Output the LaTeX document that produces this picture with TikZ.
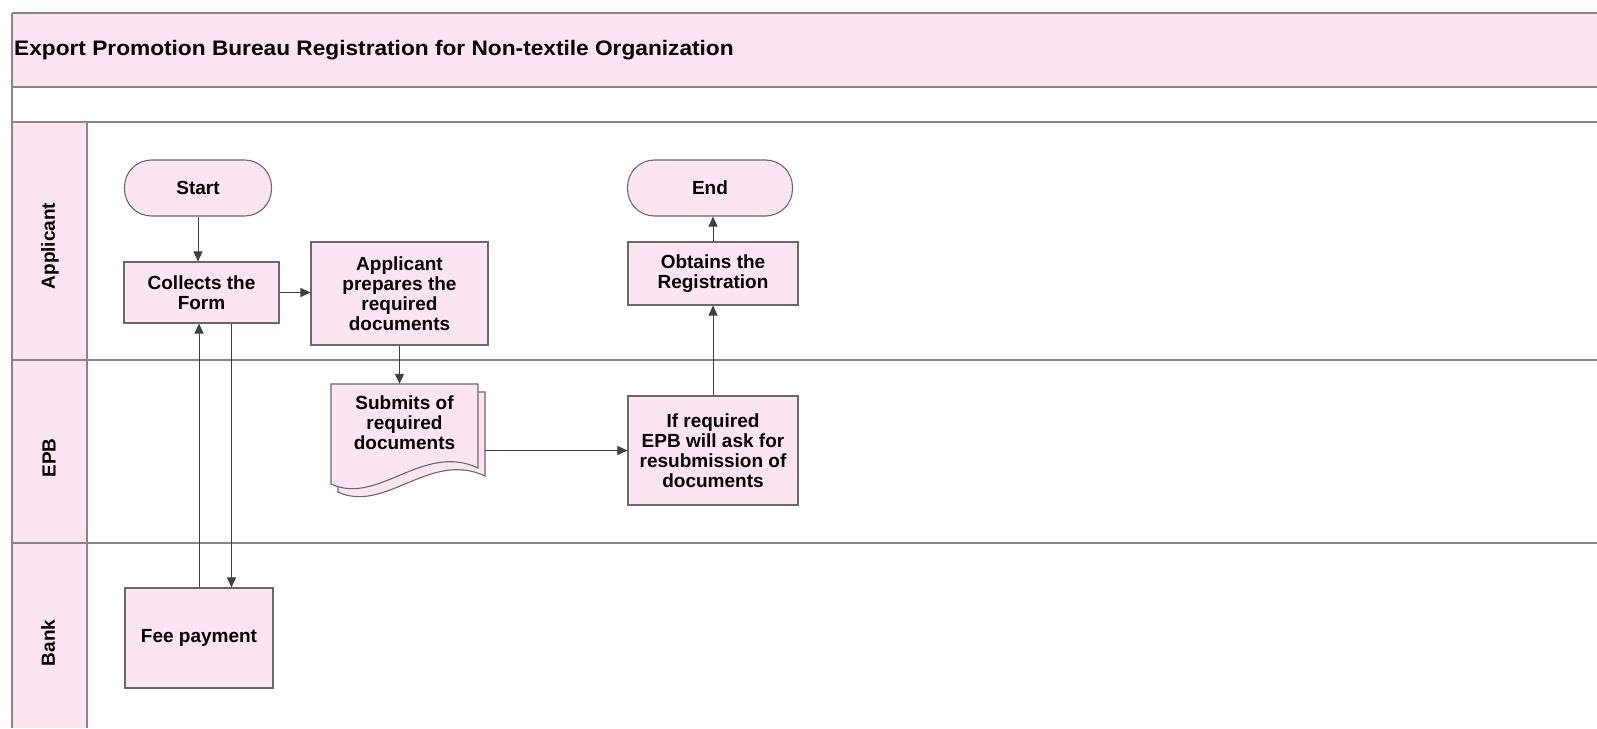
\documentclass[tikz,border=0pt]{standalone}
\usepackage{fontspec}
\setmainfont{Liberation Sans}
\newfontfamily\titlefont[FakeStretch=1.08]{Liberation Sans}
\usetikzlibrary{arrows.meta}
\definecolor{pinkfill}{RGB}{252,228,242}
\definecolor{edgegray}{RGB}{105,105,105}
\definecolor{lanegray}{RGB}{135,135,135}
\begin{document}
\begin{tikzpicture}[x=1pt,y=-1pt,
  box/.style={draw=edgegray, fill=pinkfill, line width=1.1pt, inner sep=0pt, align=center,
    font=\bfseries\fontsize{19}{20}\selectfont, text=black},
  term/.style={box, rounded corners=27pt},
  arr/.style={draw=black!75, line width=1pt, -{Triangle[length=10pt,width=9pt]}},
  lanetext/.style={rotate=90, font=\bfseries\fontsize{19}{20}\selectfont, inner sep=0pt},
  laneline/.style={draw=lanegray, line width=1.3pt}]
\useasboundingbox (0,0) rectangle (1597,728);
\fill[white] (0,0) rectangle (1597,728);
% backgrounds
\fill[pinkfill] (12,13) rectangle (1597,87);
\fill[pinkfill] (12,122) rectangle (87,728);
% frame lines
\draw[laneline] (12,13) -- (1597,13);
\draw[laneline] (12,87) -- (1597,87);
\draw[laneline] (12,122) -- (1597,122);
\draw[laneline] (12,360) -- (1597,360);
\draw[laneline] (12,543) -- (1597,543);
\draw[laneline] (12,13) -- (12,728);
\draw[laneline] (87,122) -- (87,728);
% title
\node[anchor=west, inner sep=0pt, font=\titlefont\bfseries\fontsize{21}{24}\selectfont] (title) at (14,50)
  {Export Promotion Bureau Registration for Non-textile Organization};
% lane labels
\node[lanetext] (lA) at (50,246) {Applicant};
\node[lanetext] (lE) at (49,458) {EPB};
\node[lanetext] (lB) at (48,643) {Bank};
% nodes
\node[term, minimum width=147pt, minimum height=56pt] (start) at (198,188) {Start};
\node[term, minimum width=165pt, minimum height=56pt] (end) at (710,188) {End};
\node[box, minimum width=155pt, minimum height=61pt] (collect) at (201.5,292.5) {Collects the\\Form};
\node[box, minimum width=177pt, minimum height=103pt] (prep) at (399.5,293.5) {Applicant\\prepares the\\required\\documents};
\node[box, minimum width=170pt, minimum height=63pt] (obtain) at (713,273.5) {Obtains the\\Registration};
\node[box, minimum width=170pt, minimum height=109pt] (ifreq) at (713,450.5) {If required\\EPB will ask for\\resubmission of\\documents};
\node[box, minimum width=148pt, minimum height=100pt] (fee) at (199,638) {Fee payment};
% document shape (stacked)
\draw[edgegray, fill=pinkfill, line width=1.1pt]
  (338,392) -- (485,392) -- (485,476)
  .. controls (430,450) and (385,514) .. (338,492) -- cycle;
\draw[edgegray, fill=pinkfill, line width=1.1pt]
  (331,384) -- (478,384) -- (478,468)
  .. controls (423,442) and (378,506) .. (331,484) -- cycle;
\node[inner sep=0pt, align=center, minimum width=147pt, minimum height=78pt,
  font=\bfseries\fontsize{19}{20}\selectfont] (doc) at (404.5,423) {Submits of\\required\\documents};
% connectors
\draw[arr] (start.south) -- (start.south |- collect.north);
\draw[arr] (collect.east) -- (collect.east -| prep.west);
\draw[arr] (prep.south) -- (prep.south |- doc.north);
\draw[arr] ([xshift=7pt]doc.east |- ifreq.west) -- (ifreq.west);
\draw[arr] (ifreq.north) -- (ifreq.north |- obtain.south);
\draw[arr] (obtain.north) -- (obtain.north |- end.south);
\draw[arr] ([xshift=30pt]collect.south) -- ([xshift=30pt]collect.south |- fee.north);
\draw[arr] (fee.north) -- (fee.north |- collect.south);
\end{tikzpicture}
\end{document}
